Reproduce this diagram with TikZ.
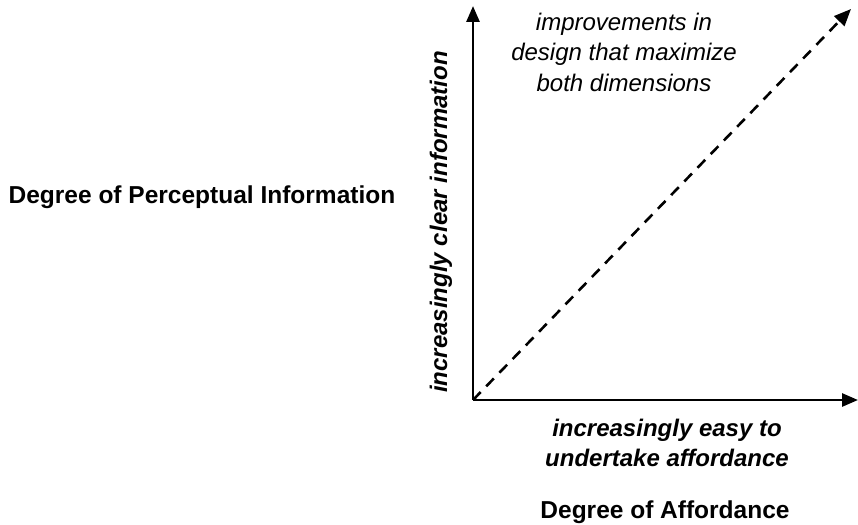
\documentclass[tikz,border=0pt]{standalone}
\usepackage{fontspec}
\setmainfont{Liberation Sans}
\usetikzlibrary{arrows.meta}
\begin{document}
\begin{tikzpicture}[x=1pt,y=-1pt,
  axis/.style={line width=2.8pt,-{Triangle[length=16pt,width=13pt]}},
  diag/.style={line width=2.6pt,dash pattern=on 11pt off 8pt,-{Triangle[length=17pt,width=14pt]}},
  biglabel/.style={font=\fontsize{24.5}{28}\selectfont\bfseries},
  axlabel/.style={font=\fontsize{24}{30}\selectfont\bfseries\itshape,align=center},
  note/.style={font=\fontsize{24}{30.5}\selectfont\itshape,align=center}]
\useasboundingbox (0,0) rectangle (858,524);
\coordinate (o) at (473,400);
\coordinate (ytip) at (473,6);
\coordinate (xtip) at (858,400);
\coordinate (dtip) at (851,9);
\draw[axis] (o) -- (ytip);
\draw[axis] (o) -- (xtip);
\draw[diag] (o) -- (dtip);
\node[note] (imp) at (624,52) {improvements in\\design that maximize\\both dimensions};
\node[axlabel] (xl) at (667,443) {increasingly easy to\\undertake affordance};
\node[axlabel,rotate=90] (yl) at (441,222) {increasingly clear information};
\node[biglabel] (xd) at (665,512) {Degree of Affordance};
\node[biglabel] (yd) at (202,197) {Degree of Perceptual Information};
\end{tikzpicture}
\end{document}
